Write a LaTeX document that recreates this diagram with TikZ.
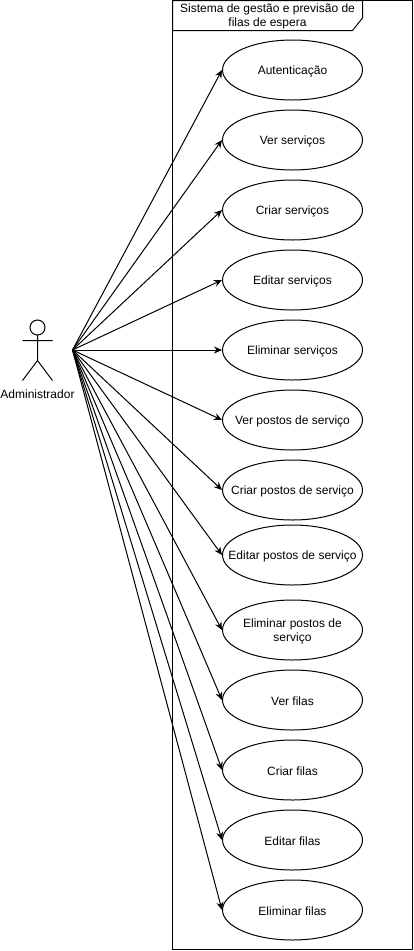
\documentclass[tikz,border=0pt]{standalone}
\usepackage{fontspec}
\setmainfont{Liberation Sans}
\usetikzlibrary{arrows.meta,shapes.geometric}
\tikzset{
  uc/.style={draw=black,fill=white,ellipse,minimum width=140pt,minimum height=60pt,inner sep=0pt,line width=1pt},
  link/.style={draw=black,line width=1pt,-{Stealth[length=8pt,width=7pt]},shorten >=0pt},
  outline/.style={draw=black,line width=1pt},
  lbl/.style={inner sep=0pt,align=center,font=\fontsize{12}{14}\selectfont}
}
\begin{document}
\begin{tikzpicture}[x=1pt,y=-1pt]
\useasboundingbox (0,0) rectangle (413,951);
\path[outline,fill=white] (172.5,0.5) rectangle (412.5,949.5);
\path[outline,fill=white] (172.5,0.5) -- (362.5,0.5) -- (362.5,18) -- (352.5,30.5) -- (172.5,30.5) -- cycle;
\node[lbl] (title) at (267.5,16.5) {Sistema de gestão e previsão de\\filas de espera};
% actor
\draw[outline] (37.5,327.5) circle (7.5);
\draw[outline] (37.5,335) -- (37.5,360.5) (22.5,340.5) -- (52.5,340.5) (22.5,380.5) -- (37.5,360.5) -- (52.5,380.5);
\node[lbl] (actorlabel) at (37.5,394) {Administrador};
\coordinate (actor) at (72.5,350);
\foreach \n/\cy/\t in {a/70/Autenticação,b/140/Ver serviços,c/210/Criar serviços,d/280/Editar serviços,e/350/Eliminar serviços,f/420/Ver postos de serviço,g/490/Criar postos de serviço,h/555/Editar postos de serviço,i/630/{Eliminar postos de\\serviço},j/700/Ver filas,k/770/Criar filas,l/840/Editar filas,m/910/Eliminar filas}{
  \node[uc] (\n) at (292.5,\cy) {};
  \node[lbl] (\n t) at (292.5,\cy+1.5) {\t};
  \draw[link] (actor) -- (\n.west);
}
\end{tikzpicture}
\end{document}
